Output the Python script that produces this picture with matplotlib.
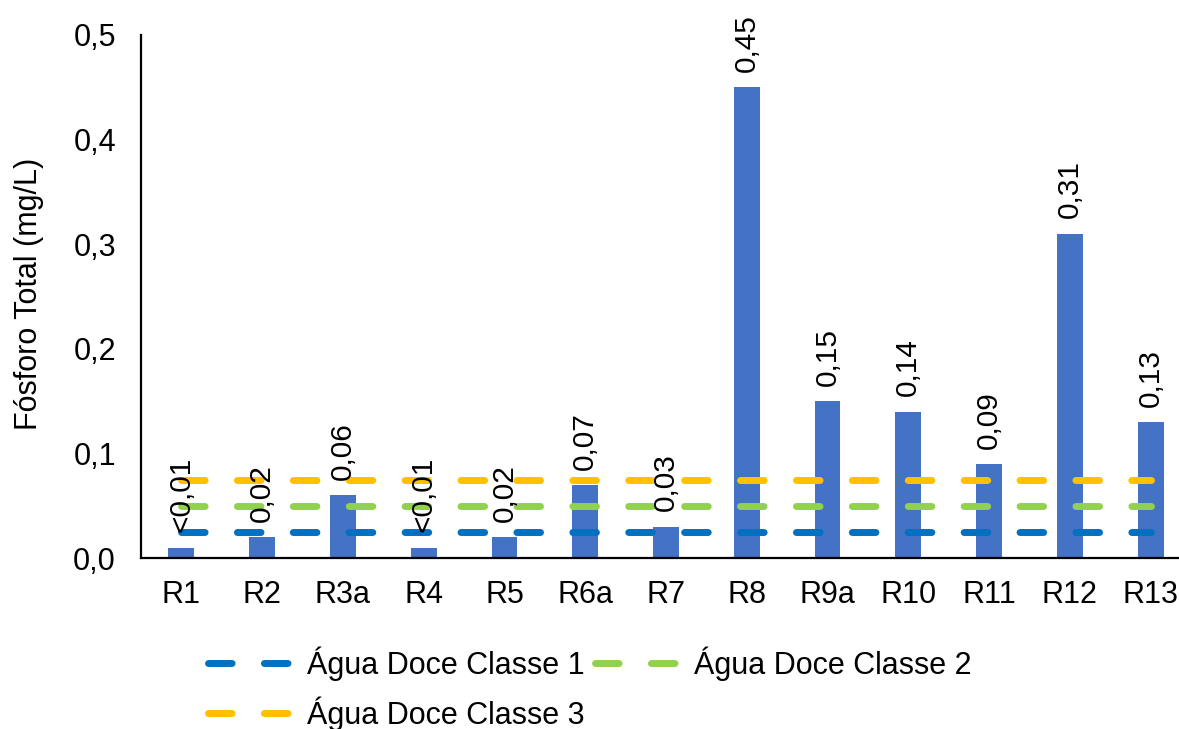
import matplotlib
matplotlib.use("Agg")
import matplotlib.pyplot as plt
from matplotlib.ticker import FuncFormatter

# Total phosphorus per sampling point (mg/L)
points = ["R1", "R2", "R3a", "R4", "R5", "R6a", "R7", "R8", "R9a", "R10", "R11", "R12", "R13"]
phosphorus = [0.01, 0.02, 0.06, 0.01, 0.02, 0.07, 0.03, 0.45, 0.15, 0.14, 0.09, 0.31, 0.13]
below_detection = [True, False, False, True, False, False, False, False, False, False, False, False, False]

# Freshwater class limits (mg/L)
class_names = ["Água Doce Classe 1", "Água Doce Classe 2", "Água Doce Classe 3"]
class_limits = [0.025, 0.05, 0.075]
class_colors = ["#0070C0", "#92D050", "#FFC000"]

bar_color = "#4472C4"

plt.rcParams["font.family"] = ["Liberation Sans", "DejaVu Sans"]
FS = 22

fig = plt.figure(figsize=(11.79, 7.29), dpi=100)
ax = fig.add_axes([141 / 1179, 171 / 729, 1050 / 1179, 523 / 729])

x = list(range(len(points)))
ax.bar(x, phosphorus, width=0.32, color=bar_color, zorder=2)

def fmt_comma(v, decimals):
    return f"{v:.{decimals}f}".replace(".", ",")

for xi, v, lt in zip(x, phosphorus, below_detection):
    label = ("<" if lt else "") + fmt_comma(v, 2)
    ax.annotate(label, (xi, v), xytext=(0, 11), textcoords="offset points",
                rotation=90, ha="center", va="bottom", fontsize=21.5, zorder=5)

handles = []
for name, lim, col in zip(class_names, class_limits, class_colors):
    ln, = ax.plot([x[0], x[-1]], [lim, lim], color=col, lw=5, linestyle=(0, (3.4, 4.65)),
                  solid_capstyle="round", dash_capstyle="round", zorder=3, label=name)
    handles.append(ln)

ax.set_xlim(-0.5, len(points) - 0.5)
ax.set_ylim(0, 0.5)
ax.set_yticks([0, 0.1, 0.2, 0.3, 0.4, 0.5])
ax.yaxis.set_major_formatter(FuncFormatter(lambda v, p: fmt_comma(v, 1)))
ax.set_xticks(x)
ax.set_xticklabels(points)
ax.tick_params(axis="both", length=0, labelsize=FS)
ax.tick_params(axis="y", pad=18)
ax.tick_params(axis="x", pad=16)

for side in ["top", "right"]:
    ax.spines[side].set_visible(False)
for side in ["left", "bottom"]:
    ax.spines[side].set_linewidth(1.6)
    ax.spines[side].set_color("black")

ax.set_ylabel("Fósforo Total (mg/L)", fontsize=FS)
ax.yaxis.set_label_coords(-0.092, 0.505)

# Row-major order for a two-column legend: 1, 2 on the first row, 3 below
order = [0, 2, 1]
fig.legend(handles=[handles[i] for i in order], loc="upper center",
           bbox_to_anchor=(0.5, 1 - 619 / 729), ncol=2, frameon=False, fontsize=FS,
           handlelength=2.95, handletextpad=0.3, columnspacing=0.33, labelspacing=0.5)

fig.savefig("out.png", dpi=100)
